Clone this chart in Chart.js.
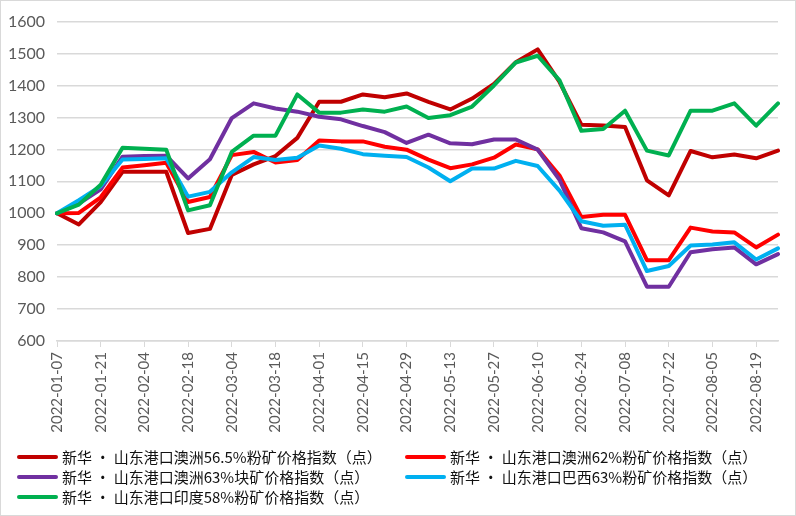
<!DOCTYPE html>
<html>
<head>
<meta charset="utf-8">
<script src="https://cdn.jsdelivr.net/npm/chart.js@4/dist/chart.umd.min.js"></script>
<style>
  html, body { margin: 0; padding: 0; background: #fff; }
  #wrap { position: relative; width: 796px; height: 516px; }
  #legend { position: absolute; left: 0; top: 447px; width: 796px; font-family: "Noto Sans CJK SC", sans-serif; font-size: 15px; color: #111; }
  .item { position: absolute; height: 20px; line-height: 20px; white-space: nowrap; }
  .item span.sw { position: absolute; top: 8px; height: 4px; border-radius: 2px; }
  .item span.tx { position: absolute; top: 0; }
</style>
</head>
<body>
<div id="wrap">
  <canvas id="ironChart" width="796" height="516"></canvas>
  <div id="legend"></div>
</div>
<script>
// weekly dates
const dates = [
  "2022-01-07", "2022-01-14", "2022-01-21", "2022-01-28", "2022-02-04", "2022-02-11",
  "2022-02-18", "2022-02-25", "2022-03-04", "2022-03-11", "2022-03-18", "2022-03-25",
  "2022-04-01", "2022-04-08", "2022-04-15", "2022-04-22", "2022-04-29", "2022-05-06",
  "2022-05-13", "2022-05-20", "2022-05-27", "2022-06-03", "2022-06-10", "2022-06-17",
  "2022-06-24", "2022-07-01", "2022-07-08", "2022-07-15", "2022-07-22", "2022-07-29",
  "2022-08-05", "2022-08-12", "2022-08-19", "2022-08-26"
];

const au565 = [1000, 965, 1035, 1130, 1130, 1130, 938, 951, 1120, 1153, 1179, 1236, 1349, 1349, 1372, 1363, 1375,
  1349, 1325, 1359, 1405, 1473, 1513, 1411, 1277, 1275, 1270, 1103, 1056, 1195, 1175, 1184, 1172, 1196];
const au62 = [1000, 1001, 1050, 1143, 1150, 1158, 1035, 1051, 1182, 1192, 1159, 1167, 1228, 1225, 1225, 1208, 1199,
  1168, 1141, 1153, 1174, 1215, 1200, 1118, 988, 995, 995, 853, 853, 955, 943, 940, 893, 933];
const au63lump = [1000, 1030, 1075, 1177, 1179, 1180, 1109, 1169, 1298, 1344, 1328, 1318, 1302, 1294, 1273, 1254, 1220,
  1246, 1219, 1216, 1231, 1231, 1199, 1105, 953, 940, 912, 770, 770, 878, 887, 893, 840, 872];
const br63 = [1000, 1041, 1085, 1168, 1170, 1172, 1052, 1067, 1128, 1176, 1167, 1174, 1212, 1202, 1185, 1180, 1176,
  1143, 1100, 1140, 1140, 1164, 1148, 1071, 975, 961, 964, 819, 835, 899, 902, 909, 855, 890];
const in58 = [1000, 1027, 1089, 1205, 1202, 1199, 1009, 1025, 1192, 1243, 1243, 1372, 1315, 1315, 1325, 1318, 1334,
  1298, 1307, 1334, 1400, 1472, 1493, 1416, 1258, 1264, 1321, 1196, 1181, 1321, 1321, 1344, 1274, 1344];

const seriesNames = [
  "新华 · 山东港口澳洲56.5%粉矿价格指数（点）",
  "新华 · 山东港口澳洲62%粉矿价格指数（点）",
  "新华 · 山东港口澳洲63%块矿价格指数（点）",
  "新华 · 山东港口巴西63%粉矿价格指数（点）",
  "新华 · 山东港口印度58%粉矿价格指数（点）"
];
const seriesData = [au565, au62, au63lump, br63, in58];
const colors = ["#C00000", "#FF0000", "#7030A0", "#00B0F0", "#00B050"];

// border round the whole picture
const frame = {
  id: "frame",
  afterDraw(chart) {
    const c = chart.ctx;
    c.save();
    c.strokeStyle = "#d9d9d9";
    c.lineWidth = 1;
    c.strokeRect(0.5, 0.5, chart.width - 1, chart.height - 1);
    c.restore();
  }
};

const ctx = document.getElementById("ironChart").getContext("2d");
new Chart(ctx, {
  type: "line",
  data: {
    labels: dates,
    datasets: seriesData.map((d, i) => ({
      label: seriesNames[i],
      data: d,
      borderColor: colors[i],
      backgroundColor: colors[i],
      borderWidth: 4,
      borderJoinStyle: "round",
      borderCapStyle: "round",
      pointRadius: 0,
      tension: 0,
      order: seriesData.length - i
    }))
  },
  options: {
    responsive: false,
    animation: false,
    layout: { padding: { left: 0, right: 18, top: 17, bottom: 0 } },
    plugins: {
      legend: { display: false },
      tooltip: { enabled: false }
    },
    scales: {
      x: {
        offset: false,
        grid: { drawOnChartArea: false, drawTicks: true, tickLength: 6, color: "#d9d9d9" },
        border: { display: true, color: "#d9d9d9", width: 1.5 },
        ticks: {
          autoSkip: false,
          maxRotation: 90,
          minRotation: 90,
          padding: 5,
          color: "#595959",
          font: { family: "Lato, 'Liberation Sans', sans-serif", size: 15 },
          callback: function (v, i) { return i % 2 === 0 ? dates[i] : null; }
        },
        afterFit: (s) => { s.height = 175; }
      },
      y: {
        min: 600,
        max: 1600,
        grid: { color: "#d9d9d9", lineWidth: 1.5, drawTicks: false },
        border: { display: false },
        ticks: {
          stepSize: 100,
          padding: 12,
          color: "#595959",
          font: { family: "Lato, 'Liberation Sans', sans-serif", size: 16 },
          callback: (v) => String(v)
        },
        afterFit: (s) => { s.width = 57; }
      }
    }
  },
  plugins: [frame]
});

// legend laid out in two columns, like the original
const legend = document.getElementById("legend");
const cols = [{ line: 17, text: 62 }, { line: 405, text: 450 }];
seriesNames.forEach((name, i) => {
  const col = cols[i % 2];
  const row = Math.floor(i / 2);
  const item = document.createElement("div");
  item.className = "item";
  item.style.left = "0px";
  item.style.top = (row * 20) + "px";
  const sw = document.createElement("span");
  sw.className = "sw";
  sw.style.left = col.line + "px";
  sw.style.width = (col.text - col.line - 4) + "px";
  sw.style.background = colors[i];
  const tx = document.createElement("span");
  tx.className = "tx";
  tx.style.left = col.text + "px";
  tx.textContent = name;
  item.appendChild(sw);
  item.appendChild(tx);
  legend.appendChild(item);
});
</script>
</body>
</html>
